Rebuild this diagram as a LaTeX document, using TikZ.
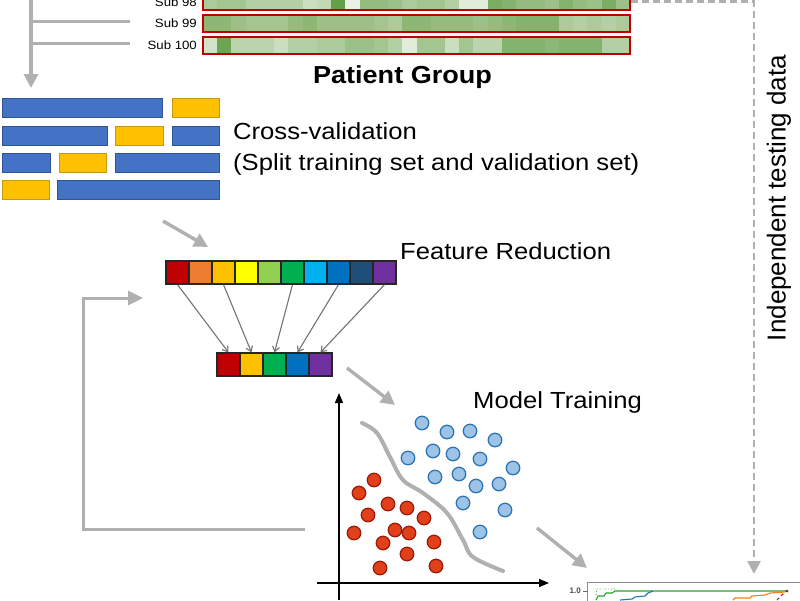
\documentclass[tikz,border=0pt]{standalone}
\usepackage{fontspec}
\setmainfont{Liberation Sans}
\newfontfamily\hfont{Liberation Sans}[FakeStretch=1.1]
\usetikzlibrary{arrows.meta}
\definecolor{garrow}{HTML}{B0B0B0}
\definecolor{hmD}{RGB}{84,150,52}
\definecolor{hmL}{RGB}{242,246,238}
\definecolor{hmred}{HTML}{C00000}
\definecolor{cvblue}{HTML}{4472C4}
\definecolor{cvblueB}{HTML}{2F5597}
\definecolor{cvyel}{HTML}{FFC000}
\definecolor{cvyelB}{HTML}{C59A10}
\definecolor{dotblue}{HTML}{9DC3E6}
\definecolor{dotblueB}{HTML}{2E75B6}
\definecolor{dotred}{HTML}{E2401A}
\definecolor{dotredB}{HTML}{9E1A0A}
\definecolor{fc1}{HTML}{C00000}
\definecolor{fc2}{HTML}{ED7D31}
\definecolor{fc3}{HTML}{FFC000}
\definecolor{fc4}{HTML}{FFFF00}
\definecolor{fc5}{HTML}{92D050}
\definecolor{fc6}{HTML}{00B050}
\definecolor{fc7}{HTML}{00B0F0}
\definecolor{fc8}{HTML}{0070C0}
\definecolor{fc9}{HTML}{1F4E79}
\definecolor{fc10}{HTML}{7030A0}
\definecolor{pgreen}{HTML}{2CA02C}
\definecolor{pblue}{HTML}{1F77B4}
\definecolor{porange}{HTML}{FF7F0E}
\definecolor{pred}{HTML}{D62728}
\tikzset{
  garr/.style={draw=garrow, line width=3.4pt, -{Triangle[length=14pt,width=14pt]}},
  gdash/.style={draw=garrow, line width=2.6pt, dash pattern=on 7pt off 4pt, -{Triangle[length=13pt,width=13pt]}},
  hmbox/.style={draw=hmred, line width=2pt, minimum width=427pt, minimum height=16.5pt, inner sep=0pt},
  sublbl/.style={font=\hfont\fontsize{12}{14}\selectfont, anchor=east, inner sep=0pt},
  biglbl/.style={font=\hfont\fontsize{23.3}{28}\selectfont, anchor=base west, inner sep=0pt},
  cvb/.style={draw=cvblueB, fill=cvblue, line width=1pt, inner sep=0pt},
  cvy/.style={draw=cvyelB, fill=cvyel, line width=1pt, inner sep=0pt},
  fcell/.style={draw=black!85, line width=1.2pt, minimum size=23pt, inner sep=0pt},
  farr/.style={draw=black!55, line width=1.1pt, -{Straight Barb[length=5pt,width=7pt]}},
  axisarr/.style={draw=black, line width=1.3pt, -{Triangle[length=10pt,width=8pt]}},
  bdot/.style={circle, draw=dotblueB, fill=dotblue, line width=1.3pt, minimum size=13.5pt, inner sep=0pt},
  rdot/.style={circle, draw=dotredB, fill=dotred, line width=1.3pt, minimum size=13.5pt, inner sep=0pt},
}
\newcommand\hmrow[4]{%
  \foreach \v [count=\k from 0] in {#3} {
    \fill[hmD!\v!hmL] (203+\k*14.233, #2) rectangle ++(14.233, 16.5);
  }
  \node[hmbox] (#1) at (416.5, #2+8.25) {};
  \node[sublbl] (#1lbl) at (197, #2+8.25) {#4};
}
\newcommand\cvbar[6]{%
  \node[#6, minimum width=#4-#2, minimum height=#5-#3] (#1) at ({(#2+#4)/2},{(#3+#5)/2}) {};
}
\begin{document}
\begin{tikzpicture}[x=1pt,y=-1pt]
\useasboundingbox (0,0) rectangle (800,600);
\clip (0,0) rectangle (800,600);
\fill[white] (0,0) rectangle (800,600);

% heatmap rows
\hmrow{r98}{-6.5}{45,50,50,40,40,40,40,25,30,90,5,60,60,55,45,50,50,40,10,10,75,70,60,60,55,70,60,55,75,55}{Sub 98}
\hmrow{r99}{15.3}{65,65,55,50,50,50,60,65,55,55,55,55,50,45,65,65,60,60,60,55,60,65,70,70,70,45,40,45,40,45}{Sub 99}
\hmrow{r100}{37}{20,85,35,35,35,25,40,40,45,45,55,55,50,40,10,50,50,25,50,35,35,70,70,70,65,70,70,70,40,40}{Sub 100}
\node[font=\hfont\bfseries\fontsize{24.6}{28}\selectfont, anchor=base, inner sep=0pt] (pg) at (402.5,83) {Patient Group};

% left tree
\coordinate (treetop) at (31,-5);
\coordinate (treeend) at (31,88);
\coordinate (br99) at (31,21.5);
\coordinate (br100) at (31,43.5);
\coordinate (br99e) at (130,21.5);
\coordinate (br100e) at (130,43.5);
\draw[garr] (treetop) -- (treeend);
\draw[draw=garrow, line width=3pt] (br99) -- (br99e);
\draw[draw=garrow, line width=3pt] (br100) -- (br100e);

% cross-validation bars
\cvbar{c11}{2}{98.5}{162}{117.5}{cvb}
\cvbar{c12}{172}{98.5}{219}{117.5}{cvy}
\cvbar{c21}{2}{126}{107}{145}{cvb}
\cvbar{c22}{115}{126}{163}{145}{cvy}
\cvbar{c23}{172}{126}{219}{145}{cvb}
\cvbar{c31}{2}{153}{50}{172}{cvb}
\cvbar{c32}{59}{153}{106}{172}{cvy}
\cvbar{c33}{115}{153}{219}{172}{cvb}
\cvbar{c41}{2}{180}{49}{199.5}{cvy}
\cvbar{c42}{57}{180}{219}{199.5}{cvb}
\node[biglbl] (cv1) at (233,139) {Cross-validation};
\node[biglbl] (cv2) at (233,170) {(Split training set and validation set)};

% arrow to feature reduction
\coordinate (a1s) at (163,221);
\coordinate (a1e) at (208,247);
\draw[garr] (a1s) -- (a1e);

% feature cells
\foreach \i in {1,...,10} {
  \node[fcell, fill=fc\i] (t\i) at (166+23*\i-11.5, 272.5) {};
}
\foreach \j/\c in {1/fc1,2/fc3,3/fc6,4/fc8,5/fc10} {
  \node[fcell, fill=\c] (b\j) at (217+23*\j-11.5, 364.5) {};
}
\draw[farr] (t1.south) -- (b1.north);
\draw[farr] (t3.south) -- (b2.north);
\draw[farr] (t6.south) -- (b3.north);
\draw[farr] (t8.south) -- (b4.north);
\draw[farr] (t10.south) -- (b5.north);
\node[biglbl] (fr) at (400,259) {Feature Reduction};

% feedback arrow
\coordinate (fbs) at (305,529);
\coordinate (fbc1) at (83,529);
\coordinate (fbe) at (143,298);
\draw[draw=garrow, line width=3pt, -{Triangle[length=15pt,width=14pt]}] (fbs) -- (fbc1) |- (fbe);

% arrow to model training
\coordinate (a2s) at (347,368);
\coordinate (a2e) at (395,405);
\draw[garr] (a2s) -- (a2e);
\node[biglbl] (mt) at (473,408) {Model Training};

% axes
\coordinate (yax0) at (339,600);
\coordinate (yax1) at (339,393);
\coordinate (xax0) at (317,583);
\coordinate (xax1) at (549,583);
\draw[axisarr] (yax0) -- (yax1);
\draw[axisarr] (xax0) -- (xax1);

% separating curve
\draw[draw=garrow, line width=4pt, line cap=round] plot[smooth, tension=0.6] coordinates {(362,423) (377,433) (390,457) (403,480) (423,493) (447,513) (463,540) (473,557) (503,571)};

% blue dots
\foreach \x/\y [count=\n] in {422/423,447/432,470/431,495/440,408/458,433/451,453/454,480/459,513/468,435/477,459/474,476/486,499/484,463/503,505/510,480/532} {
  \node[bdot] (bd\n) at (\x,\y) {};
}
% red dots
\foreach \x/\y [count=\n] in {374/480,359/493,388/504,407/508,368/515,424/518,354/533,395/530,409/533,383/543,434/542,407/554,380/568,436/566} {
  \node[rdot] (rd\n) at (\x,\y) {};
}

% arrow to evaluation plot
\coordinate (a3s) at (537,528);
\coordinate (a3e) at (587,568);
\draw[garr] (a3s) -- (a3e);

% dashed independent testing path
\coordinate (testend) at (754,574);
\draw[gdash] (r98.east) -| (testend);
\node[font=\fontsize{26}{30}\selectfont, rotate=90, inner sep=0pt] (itd) at (779,198) {Independent testing data};

% evaluation plot (partial)
\draw[draw=black!45, line width=1pt] (587,582) rectangle (800,612);
\node[font=\bfseries\fontsize{8}{9}\selectfont, anchor=east, inner sep=0pt, text=black!70] (y10) at (581,591) {1.0};
\draw[black!60, line width=.6pt] (583,591) -- (587,591);
\draw[pgreen, line width=.9pt, dotted] (596,595) -- (597,589) -- (615,589);
\draw[pgreen, line width=1.1pt] (596,600) -- (598,596) -- (604,596) -- (606,593) -- (612,593) -- (615,591) -- (787,591);
\draw[pblue, line width=1.1pt] (620,600) -- (632,599) -- (635,597) -- (645,596) -- (648,593) -- (653,591);
\draw[porange, line width=1.1pt] (733,600) -- (735,598) -- (750,598) -- (752,596) -- (765,595) -- (770,593) -- (785,592);
\draw[pred, line width=1.1pt, dashed] (777,600) -- (786,591);
\fill[black!70] (787,591) circle (1.5);
\end{tikzpicture}
\end{document}
